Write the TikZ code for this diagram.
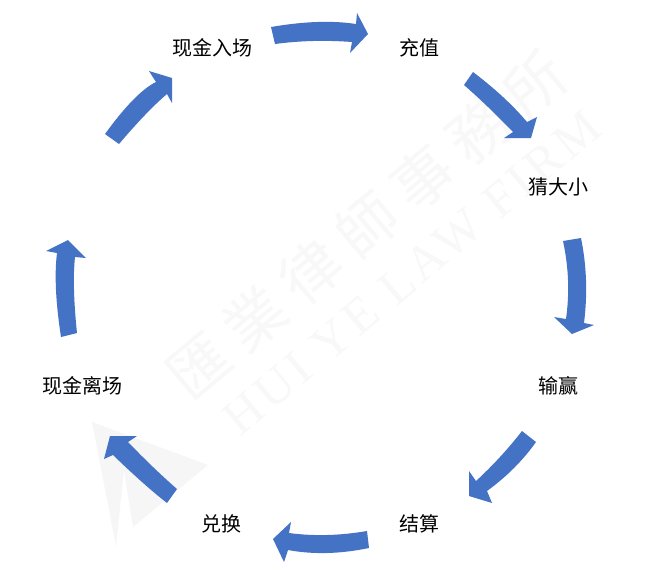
\documentclass[tikz,border=0pt]{standalone}
\usepackage{fontspec}
\usetikzlibrary{calc}
\setmainfont{Liberation Serif}
\newfontfamily\cjkfont{Noto Sans CJK SC}
\newfontfamily\wmlatin[LetterSpace=9]{Liberation Serif}
\newfontfamily\wmcjk[LetterSpace=22]{Noto Sans CJK SC}
\definecolor{arrowblue}{HTML}{4472C4}
\definecolor{wmgrey}{HTML}{F8F8F8}
\definecolor{logogrey}{HTML}{F6F6F6}
\newcommand\qto[3]{.. controls ($#1!.6667!#2$) and ($#3!.6667!#2$) .. #3}
\tikzset{
  stage/.style={font=\cjkfont\fontsize{20}{24}\selectfont, text=black, inner sep=0pt},
  blockarrow/.style={fill=arrowblue, draw=none},
  wmtext/.style={text=wmgrey, inner sep=0pt, rotate=40},
}
\begin{document}
\begin{tikzpicture}[x=1pt,y=-1pt]
\useasboundingbox (0,0) rectangle (662,566);
\fill[white] (0,0) rectangle (662,566);
% watermark
\fill[logogrey] (92,422) -- (208,465) -- (133,527) -- (124,470) -- (116,546) -- cycle;
\node[wmtext, font=\wmcjk\fontsize{60}{70}\selectfont] (wmcn) at (367,225) {匯業律師事務所};
\node[wmtext, font=\wmlatin\fontsize{50}{60}\selectfont] (wmen) at (412,273) {HUI YE LAW FIRM};
% labels
\node[stage] (cashin) at (212,48) {现金入场};
\node[stage] (topup) at (419,48) {充值};
\node[stage] (guess) at (558,187) {猜大小};
\node[stage] (winlose) at (558,386) {输赢};
\node[stage] (settle) at (419,524) {结算};
\node[stage] (redeem) at (221,524) {兑换};
\node[stage] (cashout) at (82,386) {现金离场};
% block arrows
\fill[blockarrow] (271,27) \qto{(271,27)}{(320.5,18.5)}{(356,24)} -- (357,13) -- (368,34) -- (350,53) -- (352,42) \qto{(352,42)}{(312.5,39)}{(275,44)} -- cycle;
\fill[blockarrow] (473,72) \qto{(473,72)}{(506,97)}{(527,122)} -- (537,117) -- (531,138) -- (504,138) -- (513,132) \qto{(513,132)}{(487.5,105.5)}{(464,85)} -- cycle;
\fill[blockarrow] (581,238) \qto{(581,238)}{(589.5,279.5)}{(584,323)} -- (594,325) -- (572,334) -- (554,317) -- (566,319) \qto{(566,319)}{(571.5,280)}{(563,241)} -- cycle;
\fill[blockarrow] (536,442) \qto{(536,442)}{(516.5,469.5)}{(487,491)} -- (492,503) -- (469,496) -- (469,471) -- (476,481) \qto{(476,481)}{(501,458)}{(522,431)} -- cycle;
\fill[blockarrow] (369,548) \qto{(369,548)}{(325.5,557)}{(288,550)} -- (284,562) -- (273,539) -- (291,522) -- (289,533) \qto{(289,533)}{(326,538)}{(367,531)} -- cycle;
\fill[blockarrow] (167,503) \qto{(167,503)}{(144,485)}{(113,455)} -- (104,459) -- (110,436) -- (137,436) -- (128,442) \qto{(128,442)}{(153.5,468.5)}{(177,489)} -- cycle;
\fill[blockarrow] (61,337) \qto{(61,337)}{(53,285)}{(57,253)} -- (46,251) -- (68,240) -- (86,258) -- (75,257) \qto{(75,257)}{(72,285)}{(77,333)} -- cycle;
\fill[blockarrow] (105,134) \qto{(105,134)}{(135.5,92)}{(156,82)} -- (149,71) -- (172,78) -- (172,103) -- (167,94) \qto{(167,94)}{(147,111)}{(119,144)} -- cycle;
\end{tikzpicture}
\end{document}
